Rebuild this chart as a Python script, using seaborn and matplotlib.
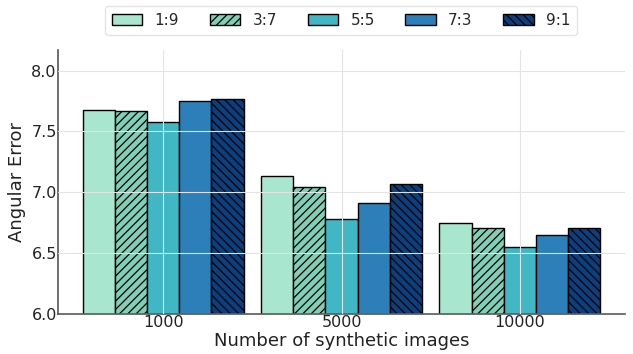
import pandas as pd
import numpy as np
import seaborn as sns
import matplotlib.pyplot as plt

# data
sizes = ['1000', '5000', '10000']
ratios = ['1:9', '3:7', '5:5', '7:3', '9:1']
err_1_9 = [7.68, 7.13, 6.75]
err_3_7 = [7.67, 7.04, 6.71]
err_5_5 = [7.58, 6.78, 6.55]
err_7_3 = [7.75, 6.91, 6.65]
err_9_1 = [7.77, 7.07, 6.71]

colors = ['#a8e6cf', '#80cfb7', '#41b6c4', '#2c7fb8', '#0c3f7e']
hatches = ['', '////', '', '', '\\\\\\\\']

rows = []
for r, vals in zip(ratios, [err_1_9, err_3_7, err_5_5, err_7_3, err_9_1]):
    for s, v in zip(sizes, vals):
        rows.append({'size': s, 'ratio': r, 'err': v})
df = pd.DataFrame(rows)

sns.set_style("white")
plt.rcParams['font.family'] = ['DejaVu Sans']
plt.rcParams['hatch.linewidth'] = 0.9

fig = plt.figure(figsize=(6.33, 3.54), dpi=100)
ax = fig.add_axes([0.092, 0.113, 0.895, 0.746])

sns.barplot(data=df, x='size', y='err', hue='ratio', order=sizes, hue_order=ratios,
            palette=colors, width=0.9, gap=0, edgecolor='black', linewidth=1.0,
            saturation=1, ax=ax, legend=True)

for cont, h in zip(ax.containers, hatches):
    for bar in cont:
        bar.set_hatch(h)
        bar.set_edgecolor('black')

ax.set_ylim(6.0, 8.17)
ax.set_xlim(-0.59, 2.59)
ax.set_yticks([6.0, 6.5, 7.0, 7.5, 8.0])
ax.set_xlabel('Number of synthetic images', fontsize=13, color='#222222', labelpad=1)
ax.set_ylabel('Angular Error', fontsize=13, color='#222222')
ax.tick_params(axis='both', labelsize=11.5, length=0, pad=1, colors='#222222')

ax.grid(True, color='#e3e3e3', linewidth=0.8, linestyle='-')
ax.set_axisbelow(False)
sns.despine(ax=ax, top=True, right=True)
for sp in ['left', 'bottom']:
    ax.spines[sp].set_color('#555555')
    ax.spines[sp].set_linewidth(1.2)

handles, labels = ax.get_legend_handles_labels()
for hd, h in zip(handles, hatches):
    hd.set_hatch(h)
    hd.set_edgecolor('black')
ax.get_legend().remove()
fig.legend(handles, labels, loc='upper center', bbox_to_anchor=(0.539, 1.005), ncol=5,
           fontsize=11, frameon=True, columnspacing=2.0, handlelength=2.0,
           handleheight=0.8, borderpad=0.45, edgecolor='#dddddd')

fig.savefig('out.png', dpi=100)
